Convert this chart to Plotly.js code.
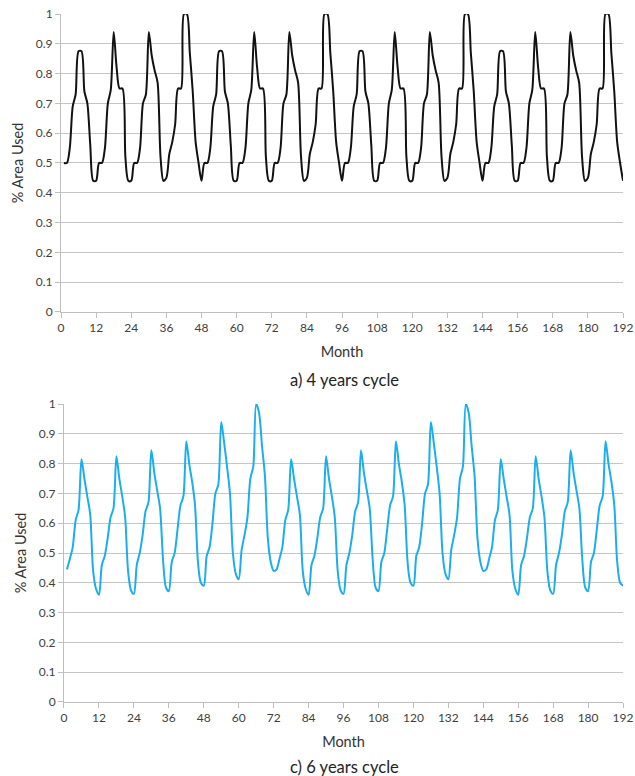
<!DOCTYPE html>
<html>
<head>
<meta charset="utf-8">
<script src="https://cdn.plot.ly/plotly-3.0.1.min.js"></script>
<style>html,body{margin:0;padding:0;background:#fff;}#chart{width:635px;height:776px;}</style>
</head>
<body>
<div id="chart"></div>
<script>
// Month index (1..192)
const months = Array.from({length: 192}, (_, i) => i + 1);

// a) 4 years cycle — % area used per month
const cycle4Values = [
  0.50,0.50,0.55,0.69,0.73,0.875,0.875,0.74,0.70,0.56,0.44,0.44,
  0.50,0.50,0.55,0.70,0.745,0.94,0.82,0.75,0.75,0.52,0.44,0.44,
  0.50,0.50,0.55,0.70,0.73,0.94,0.86,0.81,0.77,0.52,0.44,0.45,
  0.53,0.57,0.63,0.75,0.75,1.00,1.00,0.87,0.74,0.57,0.50,0.44,
  0.50,0.50,0.55,0.69,0.73,0.875,0.875,0.74,0.70,0.56,0.44,0.44,
  0.50,0.50,0.55,0.70,0.745,0.94,0.82,0.75,0.75,0.52,0.44,0.44,
  0.50,0.50,0.55,0.70,0.73,0.94,0.86,0.81,0.77,0.52,0.44,0.45,
  0.53,0.57,0.63,0.75,0.75,1.00,1.00,0.87,0.74,0.57,0.50,0.44,
  0.50,0.50,0.55,0.69,0.73,0.875,0.875,0.74,0.70,0.56,0.44,0.44,
  0.50,0.50,0.55,0.70,0.745,0.94,0.82,0.75,0.75,0.52,0.44,0.44,
  0.50,0.50,0.55,0.70,0.73,0.94,0.86,0.81,0.77,0.52,0.44,0.45,
  0.53,0.57,0.63,0.75,0.75,1.00,1.00,0.87,0.74,0.57,0.50,0.44,
  0.50,0.50,0.55,0.69,0.73,0.875,0.875,0.74,0.70,0.56,0.44,0.44,
  0.50,0.50,0.55,0.70,0.745,0.94,0.82,0.75,0.75,0.52,0.44,0.44,
  0.50,0.50,0.55,0.70,0.73,0.94,0.86,0.81,0.77,0.52,0.44,0.45,
  0.53,0.57,0.63,0.75,0.75,1.00,1.00,0.87,0.74,0.57,0.50,0.44
];

// c) 6 years cycle — % area used per month
const cycle6Values = [
  0.445,0.48,0.52,0.61,0.645,0.815,0.75,0.69,0.63,0.44,0.38,0.36,
  0.46,0.49,0.55,0.62,0.65,0.825,0.75,0.69,0.62,0.44,0.375,0.363,
  0.46,0.50,0.56,0.64,0.67,0.845,0.77,0.71,0.65,0.48,0.385,0.372,
  0.47,0.50,0.58,0.66,0.69,0.875,0.80,0.74,0.66,0.47,0.40,0.39,
  0.49,0.52,0.60,0.70,0.73,0.94,0.87,0.79,0.70,0.50,0.43,0.412,
  0.51,0.56,0.62,0.75,0.79,1.00,0.97,0.86,0.76,0.55,0.47,0.44,
  0.445,0.48,0.52,0.61,0.645,0.815,0.75,0.69,0.63,0.44,0.38,0.36,
  0.46,0.49,0.55,0.62,0.65,0.825,0.75,0.69,0.62,0.44,0.375,0.363,
  0.46,0.50,0.56,0.64,0.67,0.845,0.77,0.71,0.65,0.48,0.385,0.372,
  0.47,0.50,0.58,0.66,0.69,0.875,0.80,0.74,0.66,0.47,0.40,0.39,
  0.49,0.52,0.60,0.70,0.73,0.94,0.87,0.79,0.70,0.50,0.43,0.412,
  0.51,0.56,0.62,0.75,0.79,1.00,0.97,0.86,0.76,0.55,0.47,0.44,
  0.445,0.48,0.52,0.61,0.645,0.815,0.75,0.69,0.63,0.44,0.38,0.36,
  0.46,0.49,0.55,0.62,0.65,0.825,0.75,0.69,0.62,0.44,0.375,0.363,
  0.46,0.50,0.56,0.64,0.67,0.845,0.77,0.71,0.65,0.48,0.385,0.372,
  0.47,0.50,0.58,0.66,0.69,0.875,0.80,0.74,0.66,0.47,0.40,0.39
];

const xTicks = [0,12,24,36,48,60,72,84,96,108,120,132,144,156,168,180,192];
const yTicks = [0,0.1,0.2,0.3,0.4,0.5,0.6,0.7,0.8,0.9,1];
const yTickText = ['0','0.1','0.2','0.3','0.4','0.5','0.6','0.7','0.8','0.9','1'];
const xTitle = 'Month';
const yTitle = '% Area Used';
const captions = ['a) 4 years cycle', 'c) 6 years cycle'];

const FONT = 'Lato, "Open Sans", sans-serif';
const tickFont = {family: FONT, size: 12, color: '#404040'};
const titleFont = {family: FONT, size: 14.5, color: '#333'};

function xAxis(domain, anchor) {
  return {
    domain: domain, anchor: anchor, range: [0, 192],
    tickmode: 'array', tickvals: xTicks, ticktext: xTicks.map(String),
    showgrid: false, zeroline: false,
    showline: true, linecolor: '#bfbfbf', linewidth: 1,
    ticks: 'outside', ticklen: 5, tickcolor: '#bfbfbf', tickwidth: 1,
    tickfont: tickFont, ticklabeloverflow: 'allow',
    title: {text: xTitle, font: titleFont, standoff: 12},
    automargin: false, fixedrange: true
  };
}
function yAxis(domain, anchor) {
  return {
    domain: domain, anchor: anchor, range: [0, 1],
    tickmode: 'array', tickvals: yTicks, ticktext: yTickText,
    showgrid: true, gridcolor: '#c6c6c6', gridwidth: 1, zeroline: false,
    showline: true, linecolor: '#bfbfbf', linewidth: 1,
    ticks: 'outside', ticklen: 5, tickcolor: '#bfbfbf', tickwidth: 1,
    tickfont: tickFont,
    title: {text: yTitle, font: titleFont, standoff: 8},
    automargin: false, fixedrange: true
  };
}

const traces = [
  {x: months, y: cycle4Values, xaxis: 'x', yaxis: 'y', type: 'scatter', mode: 'lines',
   line: {color: '#111111', width: 2, shape: 'spline', smoothing: 0.8}, cliponaxis: true, hoverinfo: 'skip'},
  {x: months, y: cycle6Values, xaxis: 'x2', yaxis: 'y2', type: 'scatter', mode: 'lines',
   line: {color: '#1AAFEC', width: 2, shape: 'spline', smoothing: 0.8}, cliponaxis: true, hoverinfo: 'skip'}
];

const layout = {
  width: 635, height: 776,
  margin: {l: 61, r: 8, t: 14, b: 74},
  paper_bgcolor: '#ffffff', plot_bgcolor: '#ffffff',
  showlegend: false,
  xaxis: xAxis([0, 0.993], 'y'),
  yaxis: yAxis([0.5669, 1], 'x'),
  xaxis2: xAxis([0.0053, 0.993], 'y2'),
  yaxis2: yAxis([0, 0.4331], 'x2'),
  annotations: [
    {text: captions[0], xref: 'paper', yref: 'paper', x: 0.5, y: (702 - 380) / 688,
     xanchor: 'center', yanchor: 'middle', showarrow: false,
     font: {family: FONT, size: 16.5, color: '#222'}},
    {text: captions[1], xref: 'paper', yref: 'paper', x: 0.5, y: (702 - 767) / 688,
     xanchor: 'center', yanchor: 'middle', showarrow: false,
     font: {family: FONT, size: 16.5, color: '#222'}}
  ]
};

Plotly.newPlot('chart', traces, layout, {displayModeBar: false, staticPlot: true});
</script>
</body>
</html>
